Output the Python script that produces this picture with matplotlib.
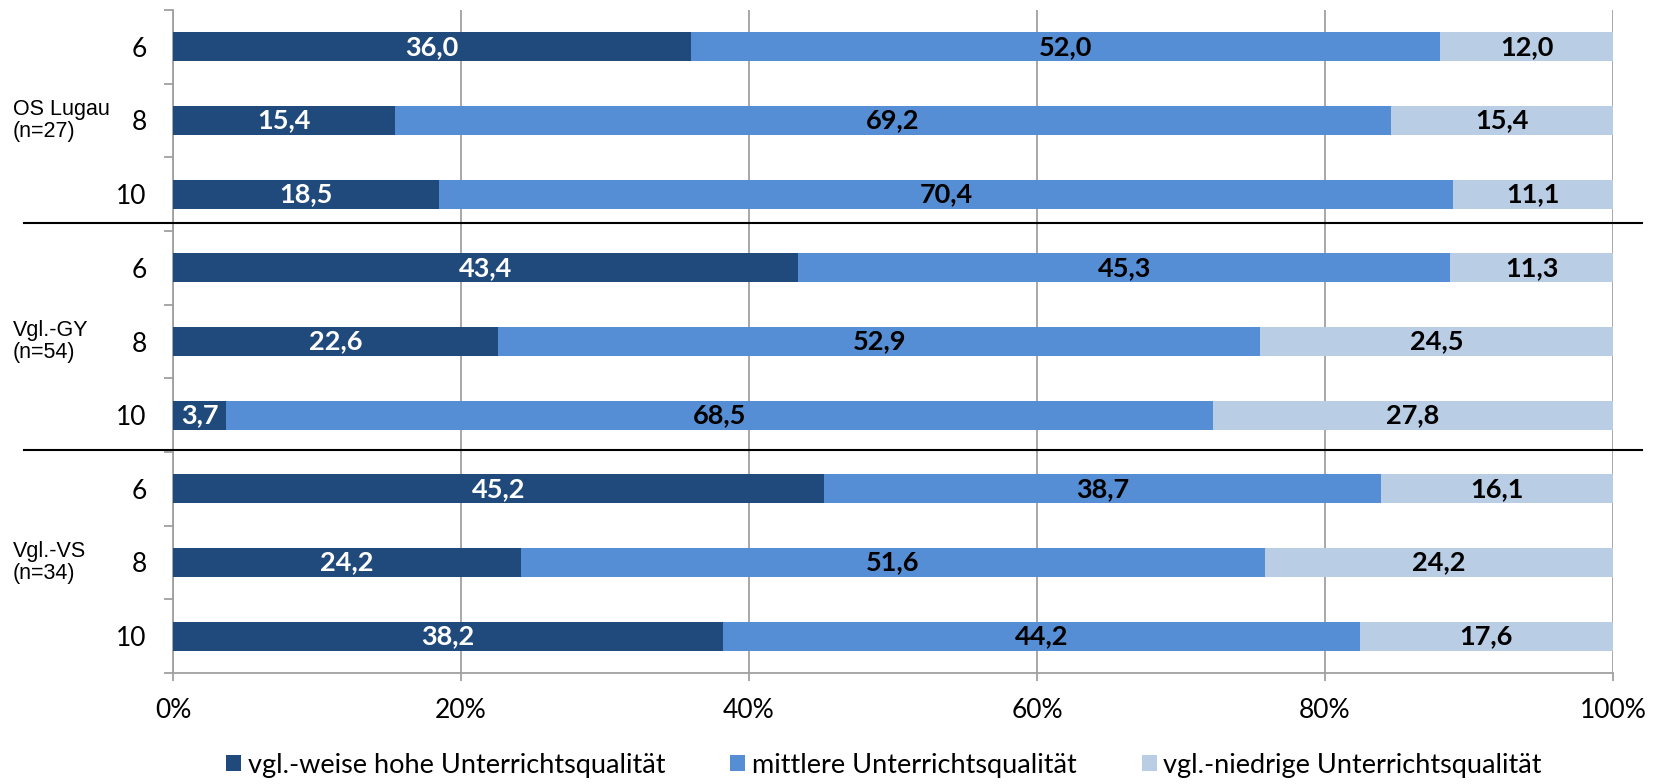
import matplotlib
matplotlib.use("Agg")
import matplotlib.pyplot as plt
from matplotlib.lines import Line2D
import numpy as np

groups = ["OS Lugau\n(n=27)", "Vgl.-GY\n(n=54)", "Vgl.-VS\n(n=34)"]
grades = ["6", "8", "10", "6", "8", "10", "6", "8", "10"]
series_names = ["vgl.-weise hohe Unterrichtsqualität",
                "mittlere Unterrichtsqualität",
                "vgl.-niedrige Unterrichtsqualität"]
hoch = [36.0, 15.4, 18.5, 43.4, 22.6, 3.7, 45.2, 24.2, 38.2]
mittel = [52.0, 69.2, 70.4, 45.3, 52.9, 68.5, 38.7, 51.6, 44.2]
niedrig = [12.0, 15.4, 11.1, 11.3, 24.5, 27.8, 16.1, 24.2, 17.6]
xticks = ["0%", "20%", "40%", "60%", "80%", "100%"]

colors = ["#204a7c", "#558ed5", "#b9cde5"]
text_colors = ["white", "black", "black"]
label_font = "Lato"

fig = plt.figure(figsize=(16.59, 7.84), dpi=100)
ax = fig.add_axes([173/1659, 1-673/784, (1613-173)/1659, (673-10)/784])

y = np.arange(len(grades))
left = np.zeros(len(grades))
for vals, col, tc, name in zip([hoch, mittel, niedrig], colors, text_colors, series_names):
    vals = np.array(vals)
    ax.barh(y, vals, left=left, height=0.39, color=col, label=name, zorder=3)
    for yi, l, v in zip(y, left, vals):
        ax.text(l + v/2, yi, f"{v:.1f}".replace(".", ","), ha="center", va="center",
                color=tc, fontsize=19.5, fontweight="bold", family=label_font, zorder=4)
    left = left + vals

ax.set_xlim(0, 100)
ax.set_ylim(len(grades) - 0.5, -0.5)
ax.set_xticks(np.arange(0, 101, 20))
ax.set_xticklabels(xticks, family=label_font, fontsize=19)
ax.set_yticks(y)
ax.set_yticklabels(grades, family=label_font, fontsize=19)
ax.set_yticks(np.arange(-0.5, len(grades), 1), minor=True)
ax.tick_params(axis="y", which="major", length=0, pad=19)
ax.tick_params(axis="y", which="minor", length=6.5, color="#a0a0a0", width=1.3)
ax.tick_params(axis="x", length=6, color="#a0a0a0", width=1.3, pad=12)
ax.grid(axis="x", color="#a0a0a0", linewidth=1.3, zorder=0)
for s in ["top", "right"]:
    ax.spines[s].set_visible(False)
for s in ["left", "bottom"]:
    ax.spines[s].set_color("#a0a0a0")
    ax.spines[s].set_linewidth(1.3)

# group labels
for gi, g in enumerate(groups):
    yc = gi * 3 + 1
    ax.text(13/1659, yc, g, transform=matplotlib.transforms.blended_transform_factory(fig.transFigure, ax.transData),
            ha="left", va="center", fontsize=15.5, family="Liberation Sans", linespacing=1.1)

# separator lines
for yb in [2.39, 5.47]:
    ydisp = ax.transData.transform((0, yb))[1]
    yfig = fig.transFigure.inverted().transform((0, ydisp))[1]
    fig.add_artist(Line2D([24/1659, 1642/1659], [yfig, yfig], color="black", linewidth=1.5))

leg = fig.legend(loc="center", bbox_to_anchor=(884/1659, 1-765/784), ncol=3, frameon=False,
                 prop={"family": label_font, "size": 19.5}, handlelength=0.55, handleheight=0.55,
                 handletextpad=0.25, columnspacing=2.4)

fig.savefig("out.png", dpi=100)
